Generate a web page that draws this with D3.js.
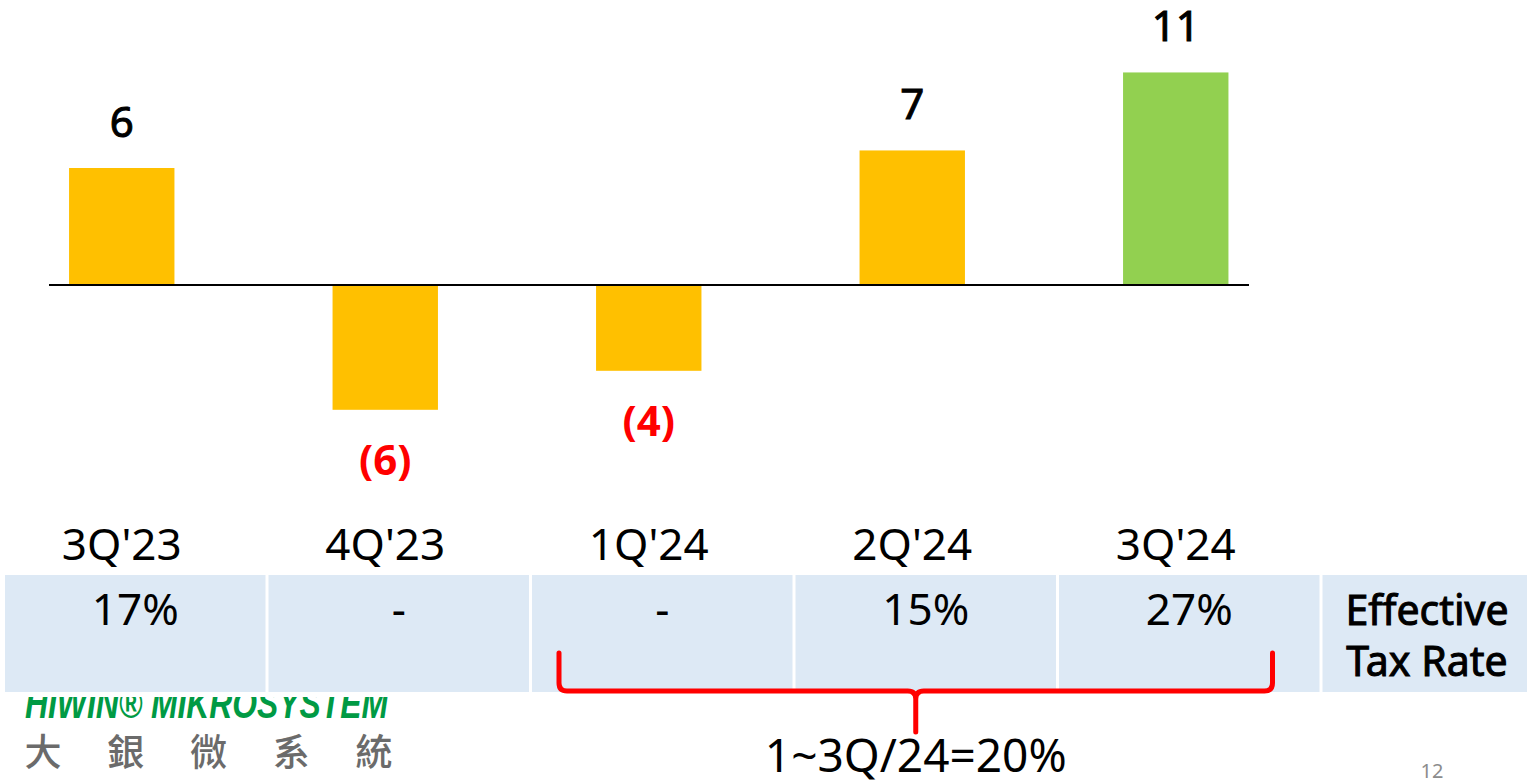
<!DOCTYPE html>
<html>
<head>
<meta charset="utf-8">
<script src="https://cdn.jsdelivr.net/npm/d3@7"></script>
<style>
  body { margin: 0; background: #fff; }
  svg { display: block; }
</style>
</head>
<body>
<script>
const width = 1527
const height = 782

/* data */
const quarters = ["3Q'23", "4Q'23", "1Q'24", "2Q'24", "3Q'24"]
const values = [6.0, -6.4, -4.4, 6.9, 10.9]
const valueLabels = ["6", "(6)", "(4)", "7", "11"]
const taxRates = ["17%", "-", "-", "15%", "27%"]
const highlightIdx = 4
const rowLabel = ["Effective", "Tax Rate"]
const bracketFrom = "1Q'24"
const bracketTo = "3Q'24"
const bracketText = "1~3Q/24=20%"
const logoLatin = "HIWIN® MIKROSYSTEM"
const logoChars = ["大", "銀", "微", "系", "統"]
const pageNo = "12"

const yellow = "#FFC000"
const green = "#92D050"
const cellFill = "#DDE9F5"
const red = "#FF0000"
const font = "'Noto Sans', 'Open Sans', sans-serif"

const svg = d3.select("body").append("svg")
  .attr("width", width)
  .attr("height", height)

const x = d3.scaleBand()
  .domain(quarters)
  .range([-10, 1307.5])
  .paddingInner(0.6)
  .paddingOuter(0.3)

const y = d3.scaleLinear()
  .domain([-8, 12])
  .range([441, 51])

const rows = quarters.map((q, i) => ({ q, v: values[i], label: valueLabels[i], rate: taxRates[i], i }))

/* bars */
svg.append("g")
  .selectAll("rect")
  .data(rows)
  .join("rect")
  .attr("x", d => x(d.q))
  .attr("width", x.bandwidth())
  .attr("y", d => y(Math.max(0, d.v)))
  .attr("height", d => Math.abs(y(d.v) - y(0)))
  .attr("fill", d => d.i === highlightIdx ? green : yellow)

/* zero line */
svg.append("line")
  .attr("x1", 49)
  .attr("x2", 1249)
  .attr("y1", y(0))
  .attr("y2", y(0))
  .attr("stroke", "#000")
  .attr("stroke-width", 2)

/* value labels */
svg.append("g")
  .selectAll("text")
  .data(rows)
  .join("text")
  .attr("x", d => x(d.q) + x.bandwidth() / 2)
  .attr("y", d => d.v >= 0 ? y(d.v) - 31 : y(d.v) + 65)
  .attr("text-anchor", "middle")
  .attr("font-family", font)
  .attr("font-size", 42)
  .attr("font-weight", d => d.v >= 0 ? "normal" : "bold")
  .attr("fill", d => d.v >= 0 ? "#000" : red)
  .attr("stroke", d => d.v >= 0 ? "#000" : "none")
  .attr("stroke-width", 1)
  .text(d => d.label)

/* category labels */
svg.append("g")
  .selectAll("text")
  .data(rows)
  .join("text")
  .attr("x", d => x(d.q) + x.bandwidth() / 2)
  .attr("y", 560)
  .attr("text-anchor", "middle")
  .attr("font-family", font)
  .attr("font-size", 44)
  .attr("fill", "#000")
  .text(d => d.q)

/* logo, top cut off like on the slide */
svg.append("clipPath").attr("id", "logoClip")
  .append("rect").attr("x", 0).attr("y", 697).attr("width", 420).attr("height", 30)

svg.append("text")
  .attr("clip-path", "url(#logoClip)")
  .attr("x", 25)
  .attr("y", 718)
  .attr("font-family", "'Liberation Sans Narrow', 'Liberation Sans', sans-serif")
  .attr("font-size", 42)
  .attr("font-weight", "bold")
  .attr("font-style", "italic")
  .attr("fill", "#009A44")
  .attr("textLength", 363)
  .attr("lengthAdjust", "spacingAndGlyphs")
  .text(logoLatin)

const cx = d3.scalePoint().domain(logoChars).range([43, 374])
svg.append("g")
  .selectAll("text")
  .data(logoChars)
  .join("text")
  .attr("x", d => cx(d))
  .attr("y", 766)
  .attr("text-anchor", "middle")
  .attr("font-family", "'Noto Sans CJK TC', sans-serif")
  .attr("font-size", 37)
  .attr("font-weight", 500)
  .attr("fill", "#6B6B6B")
  .text(d => d)

/* tax rate table */
const col = d3.scaleBand()
  .domain(quarters)
  .range([5, 1322.5])

const table = svg.append("g")
table.selectAll("rect.cell")
  .data(rows)
  .join("rect")
  .attr("class", "cell")
  .attr("x", d => col(d.q))
  .attr("y", 575)
  .attr("width", col.bandwidth() - 3)
  .attr("height", 117)
  .attr("fill", cellFill)

table.append("rect")
  .attr("x", 1322.5)
  .attr("y", 575)
  .attr("width", width - 1322.5)
  .attr("height", 117)
  .attr("fill", cellFill)

table.selectAll("text.rate")
  .data(rows)
  .join("text")
  .attr("class", "rate")
  .attr("x", d => col(d.q) + (col.bandwidth() - 3) / 2)
  .attr("y", 625)
  .attr("text-anchor", "middle")
  .attr("font-family", font)
  .attr("font-size", 44)
  .attr("fill", "#000")
  .text(d => d.rate)

table.selectAll("text.rowlab")
  .data(rowLabel)
  .join("text")
  .attr("class", "rowlab")
  .attr("x", 1427)
  .attr("y", (d, i) => 625 + i * 51)
  .attr("text-anchor", "middle")
  .attr("font-family", font)
  .attr("font-size", 41)
  .attr("fill", "#000")
  .attr("stroke", "#000")
  .attr("stroke-width", 1)
  .text(d => d)

/* red brace under 1Q'24 .. 3Q'24 */
const bx0 = col(bracketFrom) + 27
const bx1 = col(bracketTo) + col.bandwidth() - 50
const bmid = (bx0 + bx1) / 2
const bTop = 653, bLine = 691, bTip = 732, br = 8
const p = d3.path()
p.moveTo(bx0, bTop)
p.lineTo(bx0, bLine - br)
p.quadraticCurveTo(bx0, bLine, bx0 + br, bLine)
p.lineTo(bmid - br, bLine)
p.quadraticCurveTo(bmid, bLine, bmid, bLine + br)
p.lineTo(bmid, bTip)
p.moveTo(bmid, bLine + br)
p.quadraticCurveTo(bmid, bLine, bmid + br, bLine)
p.lineTo(bx1 - br, bLine)
p.quadraticCurveTo(bx1, bLine, bx1, bLine - br)
p.lineTo(bx1, bTop)

svg.append("path")
  .attr("d", p.toString())
  .attr("fill", "none")
  .attr("stroke", red)
  .attr("stroke-width", 5)
  .attr("stroke-linecap", "round")
  .attr("stroke-linejoin", "round")

svg.append("text")
  .attr("x", bmid)
  .attr("y", 772)
  .attr("text-anchor", "middle")
  .attr("font-family", font)
  .attr("font-size", 46)
  .attr("fill", "#000")
  .text(bracketText)

svg.append("text")
  .attr("x", 1432)
  .attr("y", 778)
  .attr("text-anchor", "middle")
  .attr("font-family", font)
  .attr("font-size", 20)
  .attr("fill", "#8C8C8C")
  .text(pageNo)
</script>
</body>
</html>
